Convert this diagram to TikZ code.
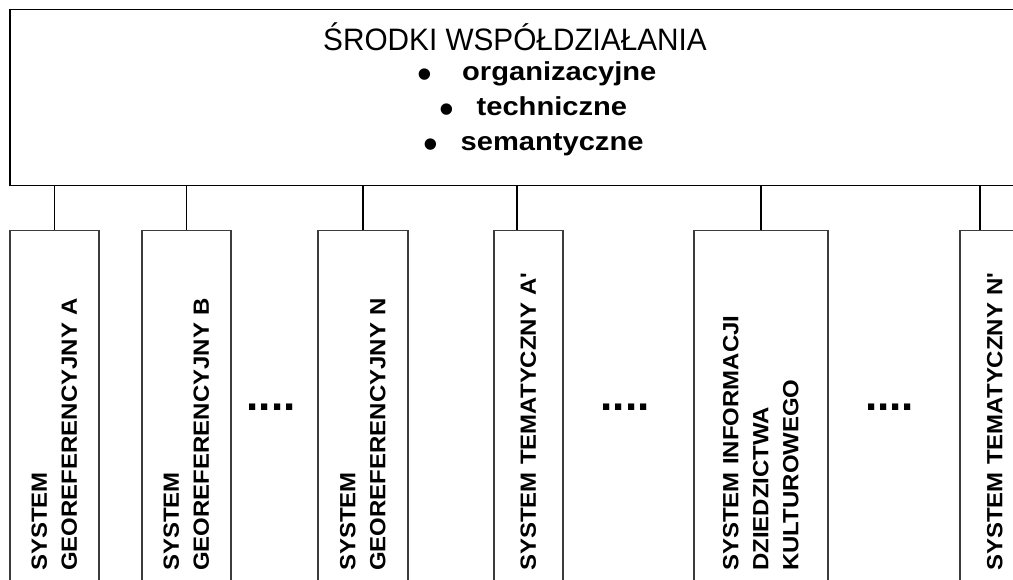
\documentclass[tikz,border=0pt]{standalone}
\usepackage{fontspec}
\setmainfont{Liberation Sans}
\newfontfamily\titlefont[FakeStretch=0.96]{Liberation Sans}
\newfontfamily\itemfont[FakeStretch=1.12]{Liberation Sans}
\newfontfamily\systemfont[FakeStretch=1.09]{Liberation Sans}
\definecolor{framegray}{RGB}{60,60,60}
\newcommand{\bigbullet}{{\rmfamily\mdseries\fontsize{42}{42}\selectfont\raisebox{-7.5pt}{\textbullet}}}
\tikzset{
  frame box/.style={
    rectangle, draw=black, line width=1.5pt,
    inner sep=0pt, anchor=north west
  },
  title text/.style={font=\titlefont\fontsize{31}{36}\selectfont, anchor=base, inner sep=0pt},
  item text/.style={font=\itemfont\bfseries\fontsize{26}{30}\selectfont, anchor=base west, inner sep=0pt},
  system box/.style={
    rectangle, draw=framegray, line width=1.5pt,
    rotate=90, anchor=north east,
    minimum width=360pt, inner xsep=20pt, text width=320pt, align=left,
    font=\systemfont\bfseries\fontsize{22}{30}\selectfont
  },
  more dots/.style={font=\bfseries\fontsize{44}{44}\selectfont, anchor=base, inner sep=0pt},
  link/.style={line width=1.5pt, black}
}

\begin{document}
\begin{tikzpicture}[x=1pt, y=-1pt]
    \useasboundingbox (0,0) rectangle (1013,580);
    \clip (0,0) rectangle (1013,580);
    \node[frame box, minimum width=1021pt, minimum height=176pt] (srodki) at (9,9) {};
    \node[title text] (title) at (515,51) {ŚRODKI WSPÓŁDZIAŁANIA};
    \node[item text] (org) at (417.65,81) {\bigbullet\hspace{29.6pt}organizacyjne};
    \node[item text] (tech) at (439.65,116) {\bigbullet\hspace{22.1pt}techniczne};
    \node[item text] (sem) at (423.65,151) {\bigbullet\hspace{22.1pt}semantyczne};
    \node[system box, minimum height=89pt] (geoA) at (9,230) {SYSTEM\\GEOREFERENCYJNY A};
    \node[system box, minimum height=89pt] (geoB) at (141,230) {SYSTEM\\GEOREFERENCYJNY B};
    \node[system box, minimum height=90pt] (geoN) at (317,230) {SYSTEM\\GEOREFERENCYJNY N};
    \node[system box, minimum height=69pt] (temA) at (493,230) {SYSTEM TEMATYCZNY A'};
    \node[system box, minimum height=134pt] (kult) at (693,230) {SYSTEM INFORMACJI\\DZIEDZICTWA\\KULTUROWEGO};
    \node[system box, minimum height=70pt] (temN) at (959,230) {SYSTEM TEMATYCZNY N'};
    \node[more dots] (dotsA) at (271,410) {....};
    \node[more dots] (dotsB) at (625,410) {....};
    \node[more dots] (dotsC) at (889.5,410) {....};
    \coordinate (temAtop) at ([xshift=24pt]temA.north east);
    \coordinate (temNtop) at ([xshift=21pt]temN.north east);
    \draw[link] (geoA.east) -- (geoA.east |- srodki.south);
    \draw[link] (geoB.east) -- (geoB.east |- srodki.south);
    \draw[link] (geoN.east) -- (geoN.east |- srodki.south);
    \draw[link] (temAtop) -- (temAtop |- srodki.south);
    \draw[link] (kult.east) -- (kult.east |- srodki.south);
    \draw[link] (temNtop) -- (temNtop |- srodki.south);
  \end{tikzpicture}
\end{document}
